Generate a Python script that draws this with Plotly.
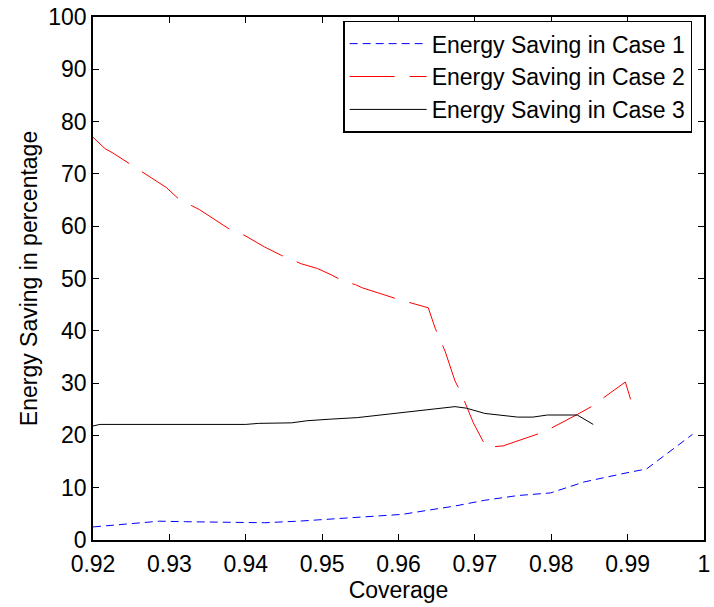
import plotly.graph_objects as go

# Coverage (x) and energy saving in percent (y) for the three cases
coverage_case1 = [0.920, 0.9245, 0.9287, 0.9321, 0.9382, 0.9425, 0.9469, 0.9512, 0.9546,
                  0.9605, 0.9639, 0.9674, 0.9713, 0.9756, 0.9799, 0.9843, 0.9894, 0.9925, 0.9985]
saving_case1 = [2.5, 3.1, 3.6, 3.5, 3.3, 3.3, 3.6, 4.0, 4.4,
                4.9, 5.7, 6.5, 7.6, 8.5, 9.0, 11.1, 12.7, 13.6, 20.2]

coverage_case2 = [0.920, 0.9216, 0.9226, 0.9296, 0.9313, 0.9339, 0.9378, 0.9399, 0.9425,
                  0.9447, 0.9473, 0.9494, 0.9512, 0.9525, 0.9544, 0.9553, 0.9600, 0.9620,
                  0.9639, 0.9648, 0.9661, 0.9674, 0.9682, 0.9698, 0.9715, 0.9737, 0.9773,
                  0.9791, 0.9834, 0.9855, 0.9877, 0.9884, 0.9897, 0.9906]
saving_case2 = [77.0, 74.8, 74.0, 67.4, 65.1, 63.2, 59.5, 58.2, 56.0,
                54.4, 52.8, 51.9, 50.7, 49.7, 48.8, 48.2, 46.0, 45.2,
                44.4, 40.5, 36.1, 30.4, 28.1, 22.4, 17.7, 18.0, 19.7,
                20.7, 24.0, 25.7, 28.1, 28.8, 30.2, 25.9]

coverage_case3 = [0.920, 0.9209, 0.940, 0.9417, 0.946, 0.948, 0.951, 0.9546,
                  0.9674, 0.9689, 0.9713, 0.9756, 0.9776, 0.9795, 0.9834, 0.9855]
saving_case3 = [21.8, 22.1, 22.1, 22.3, 22.4, 22.8, 23.1, 23.4,
                25.5, 25.2, 24.2, 23.5, 23.5, 23.9, 23.9, 22.1]

series_names = ["Energy Saving in Case 1", "Energy Saving in Case 2", "Energy Saving in Case 3"]

x_tick_vals = [0.92, 0.93, 0.94, 0.95, 0.96, 0.97, 0.98, 0.99, 1.0]
x_tick_text = ["0.92", "0.93", "0.94", "0.95", "0.96", "0.97", "0.98", "0.99", "1"]
y_tick_vals = [0, 10, 20, 30, 40, 50, 60, 70, 80, 90, 100]

FONT = "Liberation Sans, Arial, sans-serif"
FS = 23

fig = go.Figure()
fig.add_trace(go.Scatter(
    x=coverage_case1, y=saving_case1, mode="lines", name=series_names[0],
    line=dict(color="#0000ff", width=1, dash="8px,5px"),
))
fig.add_trace(go.Scatter(
    x=coverage_case2, y=saving_case2, mode="lines", name=series_names[1],
    line=dict(color="#ff0000", width=1, dash="45px,15px"),
))
fig.add_trace(go.Scatter(
    x=coverage_case3, y=saving_case3, mode="lines", name=series_names[2],
    line=dict(color="#000000", width=1),
))

axis_common = dict(
    showgrid=False, zeroline=False, showline=True, linecolor="black", linewidth=1.5,
    ticks="inside", ticklen=6, tickcolor="black", tickwidth=1, mirror="ticks",
    tickfont=dict(family=FONT, size=FS, color="black"),
    ticklabeloverflow="allow",
)

fig.update_layout(
    width=714, height=607, autosize=False,
    margin=dict(l=93, r=4, t=13, b=67),
    paper_bgcolor="white", plot_bgcolor="white",
    font=dict(family=FONT, size=FS, color="black"),
    xaxis=dict(range=[0.92, 1.0], tickvals=x_tick_vals, ticktext=x_tick_text,
               ticklabelstandoff=3,
               title=dict(text="Coverage", font=dict(family=FONT, size=FS), standoff=5),
               **axis_common),
    yaxis=dict(range=[0, 100], tickvals=y_tick_vals,
               title=dict(text="Energy Saving in percentage", font=dict(family=FONT, size=FS),
                          standoff=4),
               **axis_common),
    legend=dict(x=0.9806, y=0.993, xanchor="right", yanchor="top",
                itemwidth=77,
                bgcolor="white", bordercolor="black", borderwidth=1.5,
                font=dict(family=FONT, size=FS, color="black")),
    showlegend=True,
)

fig.write_html("out.html")
